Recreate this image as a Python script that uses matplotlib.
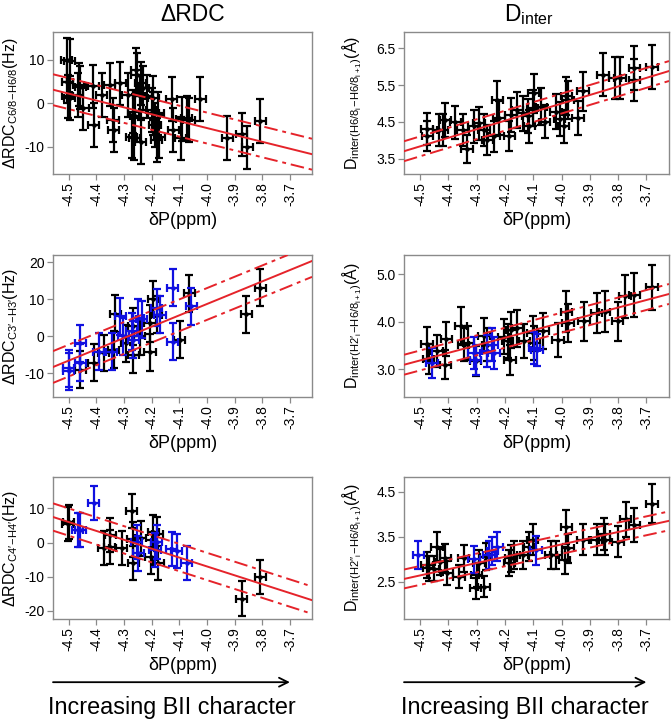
import numpy as np
import matplotlib
matplotlib.use("Agg")
import matplotlib.pyplot as plt

# fonts
plt.rcParams['font.family'] = ['Liberation Sans', 'DejaVu Sans']
plt.rcParams['mathtext.fontset'] = 'custom'
plt.rcParams['mathtext.rm'] = 'Liberation Sans'
plt.rcParams['mathtext.it'] = 'Liberation Sans:italic'

# ---------------- data ----------------
# dRDC C6/8-H6/8
rdc1_x = [-4.508, -4.496, -4.506, -4.504, -4.496, -4.464, -4.458, -4.468, -4.448, -4.410,
          -4.412, -4.380, -4.340, -4.338, -4.352, -4.314, -4.287, -4.272, -4.263, -4.266,
          -4.260, -4.254, -4.256, -4.239, -4.239, -4.230, -4.244, -4.218, -4.200, -4.194,
          -4.188, -4.182, -4.172, -4.176, -4.194, -4.128, -4.122, -4.095, -4.091, -4.074,
          -4.065, -4.025, -3.927, -3.875, -3.855, -3.807]
rdc1_y = [10.0, 9.8, 5.0, 1.6, 1.2, 4.3, 3.7, 2.0, -1.1, -5.0,
          3.9, 2.0, -3.8, -6.1, 4.3, 4.6, 2.0, -7.6, -8.0, -1.9,
          -2.9, 6.6, 7.7, -8.8, 4.6, 3.5, 1.6, 1.6, -1.5, -2.3,
          -4.9, -8.4, -7.6, -2.3, 1.2, 1.0, -6.1, -8.0, -3.6, -3.4,
          -3.8, 1.0, -7.9, -7.1, -10.1, -4.0]

# dRDC C3'-H3'
rdc2_x = [-4.458, -4.410, -4.374, -4.332, -4.338, -4.292, -4.266, -4.266, -4.244, -4.206,
          -4.206, -4.194, -4.182, -4.098, -4.064, -3.857, -3.807]
rdc2_y = [-9.0, -7.2, -4.5, 6.1, -3.6, -1.8, -5.0, 2.7, 0.0, -4.3,
          3.6, 10.1, 5.9, -0.9, 11.7, 6.0, 13.2]
rdc2_bx = [-4.500, -4.500, -4.458, -4.458, -4.392, -4.344, -4.314, -4.302, -4.272, -4.266,
           -4.248, -4.236, -4.182, -4.170, -4.124, -4.124, -4.056]
rdc2_by = [-8.6, -9.5, -7.2, -1.8, -4.1, -4.1, 5.4, 0.0, 1.4, -0.9,
           5.0, 4.6, 7.7, 5.9, 13.1, -1.4, 8.1]

# dRDC C4'-H4'
rdc3_x = [-4.500, -4.504, -4.374, -4.352, -4.350, -4.308, -4.272, -4.268, -4.266, -4.239,
          -4.203, -4.194, -4.176, -4.179, -3.875, -3.807]
rdc3_y = [6.1, 5.5, -1.7, -1.2, 2.2, -1.7, 9.2, 0.9, -6.1, 1.2,
          -4.2, 3.0, -6.1, 2.4, -16.4, -10.0]
rdc3_bx = [-4.468, -4.458, -4.410, -4.254, -4.248, -4.182, -4.188, -4.128, -4.110, -4.074]
rdc3_by = [3.6, 3.6, 11.5, 0.2, -3.2, 0.2, -2.2, -1.9, -2.5, -6.1]

# D_inter H6/8_i - H6/8_i+1
dis1_x = [-4.476, -4.474, -4.434, -4.411, -4.420, -4.375, -4.348, -4.334, -4.310, -4.292,
          -4.274, -4.262, -4.239, -4.227, -4.221, -4.185, -4.179, -4.156, -4.138, -4.120,
          -4.114, -4.102, -4.099, -4.072, -4.060, -4.019, -4.007, -3.992, -3.983, -3.977,
          -3.942, -3.924, -3.853, -3.811, -3.793, -3.742, -3.742, -3.680]
dis1_y = [4.31, 4.12, 4.29, 4.56, 4.28, 4.49, 4.29, 3.77, 4.38, 4.47,
          4.29, 4.02, 4.11, 5.10, 4.60, 4.12, 4.69, 4.83, 4.74, 4.67,
          4.38, 4.87, 5.28, 4.92, 4.51, 4.78, 4.58, 4.38, 5.21, 5.10,
          4.60, 5.33, 5.78, 5.69, 5.69, 5.96, 5.64, 6.00]

# D_inter H2'_i - H6/8_i+1
dis2_x = [-4.476, -4.470, -4.440, -4.407, -4.411, -4.355, -4.346, -4.330, -4.304, -4.274,
          -4.262, -4.203, -4.191, -4.182, -4.177, -4.156, -4.132, -4.102, -4.096, -4.066,
          -4.013, -3.983, -3.977, -3.920, -3.876, -3.847, -3.802, -3.776, -3.742, -3.680]
dis2_y = [3.54, 3.22, 3.38, 3.64, 3.10, 3.92, 3.52, 3.55, 3.17, 3.71,
          3.52, 3.69, 3.59, 3.20, 3.83, 3.87, 3.59, 3.76, 3.55, 3.81,
          3.62, 4.22, 3.98, 4.01, 4.19, 4.22, 4.01, 4.54, 4.57, 4.73]
dis2_bx = [-4.458, -4.310, -4.304, -4.262, -4.245, -4.239, -4.096, -4.087]
dis2_by = [3.13, 3.34, 3.20, 3.38, 3.52, 3.34, 3.45, 3.41]

# D_inter H2''_i - H6/8_i+1
dis3_x = [-4.476, -4.470, -4.452, -4.440, -4.429, -4.411, -4.405, -4.363, -4.346, -4.304,
          -4.274, -4.300, -4.292, -4.268, -4.185, -4.179, -4.167, -4.138, -4.114, -4.102,
          -4.037, -4.019, -3.989, -3.983, -3.977, -3.924, -3.876, -3.850, -3.848, -3.800,
          -3.773, -3.742, -3.680]
dis3_y = [2.87, 2.80, 2.79, 3.28, 2.94, 3.03, 2.69, 2.61, 3.02, 2.35,
          2.39, 2.65, 2.91, 3.06, 2.91, 3.02, 3.09, 3.09, 3.28, 3.43,
          3.09, 3.09, 2.98, 3.72, 3.24, 3.43, 3.43, 3.57, 3.43, 3.39,
          3.89, 3.76, 4.24]
dis3_bx = [-4.506, -4.310, -4.257, -4.245, -4.227, -4.090]
dis3_by = [3.09, 3.00, 3.09, 3.18, 3.28, 3.20]

# error bars: RDC +-5 Hz, distances +-10 %, dP +-0.02 ppm
rdc_err = 5.0
dis_rel_err = 0.10
dp_err = 0.02

# regression line: value at dP=-4.5, slope, half width of dash-dot band
fit_at_45 = [2.25, -6.55, 6.0, 3.84, 3.19, 2.64]
fit_slope = [-15.8, 30.6, -26.0, 2.32, 1.59, 1.38]
fit_band = [3.55, 4.3, 4.0, 0.27, 0.21, 0.21]

xticks = [-4.5, -4.4, -4.3, -4.2, -4.1, -4.0, -3.9, -3.8, -3.7]
yticks = [[10, 0, -10], [20, 10, 0, -10], [10, 0, -10, -20],
          [6.5, 5.5, 4.5, 3.5], [5.0, 4.0, 3.0], [4.5, 3.5, 2.5]]
ytick_fmt = ['%d', '%d', '%d', '%.1f', '%.1f', '%.1f']
ylims = [(-16.2, 16.4), (-16.4, 22.0), (-22.4, 19.2),
         (3.09, 6.94), (2.42, 5.41), (1.67, 4.83)]

ylabels = [r"ΔRDC$_{\mathrm{C6/8\!-\!H6/8}}$(Hz)",
           r"ΔRDC$_{\mathrm{C3\prime\!-\!H3\prime}}$(Hz)",
           r"ΔRDC$_{\mathrm{C4\prime\!-\!H4\prime}}$(Hz)",
           r"D$_{\mathrm{inter(H6/8_i\!-\!H6/8_{i+1})}}$(Å)",
           r"D$_{\mathrm{inter(H2\prime_i\!-\!H6/8_{i+1})}}$(Å)",
           r"D$_{\mathrm{inter(H2\prime\prime_i\!-\!H6/8_{i+1})}}$(Å)"]

black_pts = [(rdc1_x, rdc1_y), (rdc2_x, rdc2_y), (rdc3_x, rdc3_y),
             (dis1_x, dis1_y), (dis2_x, dis2_y), (dis3_x, dis3_y)]
blue_pts = [None, (rdc2_bx, rdc2_by), (rdc3_bx, rdc3_by),
            None, (dis2_bx, dis2_by), (dis3_bx, dis3_by)]

# ---------------- plot ----------------
W, H = 672, 723
fig = plt.figure(figsize=(W / 100, H / 100), dpi=100)

col_left = [53, 404]
col_width = [259, 265]
row_top = [32, 255, 477]
ax_h = 142
ylab_x = [-0.128, -0.15]
xlim = (-4.557, -3.62)
red = '#e5232a'
grey = '#8a8a8a'

axes = []
for k in range(6):
    c = k // 3
    r = k % 3
    ax = fig.add_axes([col_left[c] / W, 1 - (row_top[r] + ax_h) / H,
                       col_width[c] / W, ax_h / H])
    axes.append(ax)

    bx, by = black_pts[k]
    if c == 0:
        err_b = rdc_err
    else:
        err_b = dis_rel_err * np.array(by)
    ax.errorbar(bx, by, xerr=dp_err, yerr=err_b, fmt='o', ms=2.2, color='black',
                ecolor='black', elinewidth=1.6, capsize=3.2, capthick=1.6, zorder=2)
    if blue_pts[k] is not None:
        ux, uy = blue_pts[k]
        if c == 0:
            err_u = rdc_err
        else:
            err_u = dis_rel_err * np.array(uy)
        ax.errorbar(ux, uy, xerr=dp_err, yerr=err_u, fmt='o', ms=2.2, color='#1010e0',
                    ecolor='#1010e0', elinewidth=1.6, capsize=3.2, capthick=1.6, zorder=3)

    # fit with band
    y0 = fit_at_45[k]
    ax.axline((-4.5, y0), slope=fit_slope[k], color=red, lw=1.4, zorder=4)
    for s in (1, -1):
        ax.axline((-4.5, y0 + s * fit_band[k]), slope=fit_slope[k], color=red, lw=1.4,
                  linestyle=(0, (7, 2.5, 2, 2.5)), zorder=4)

    ax.set_xlim(xlim)
    ax.set_ylim(ylims[k])
    ax.set_xticks(xticks)
    ax.set_xticklabels(['%.1f' % v for v in xticks], rotation=90)
    ax.set_yticks(yticks[k])
    ax.set_yticklabels([ytick_fmt[k] % v for v in yticks[k]])
    ax.tick_params(axis='both', labelsize=10, color=grey, length=4, width=0.9, pad=2)
    for sp in ax.spines.values():
        sp.set_color(grey)
        sp.set_linewidth(1.0)

    ax.set_xlabel("δP(ppm)", fontsize=13)
    ax.xaxis.set_label_coords(0.5, -0.27)
    ax.set_ylabel(ylabels[k], fontsize=11.5)
    ax.yaxis.set_label_coords(ylab_x[c], 0.5)

axes[0].set_title("ΔRDC", fontsize=16.5, pad=8, x=0.54)
axes[3].set_title(r"D$_{\mathrm{inter}}$", fontsize=16.5, pad=8, x=0.47)

# arrows and text under bottom row
for ax in (axes[2], axes[5]):
    ax.annotate('', xy=(-3.7, -0.445), xytext=(xlim[0], -0.445),
                xycoords=('data', 'axes fraction'), textcoords=('data', 'axes fraction'),
                arrowprops=dict(arrowstyle='->', color='black', lw=1.3,
                                mutation_scale=16, shrinkA=0, shrinkB=0),
                annotation_clip=False)
    ax.text((xlim[0] - 3.7) / 2, -0.62, 'Increasing BII character', fontsize=16.8,
            ha='center', va='center', transform=ax.get_xaxis_transform())

fig.savefig('out.png', dpi=100)
plt.close()
